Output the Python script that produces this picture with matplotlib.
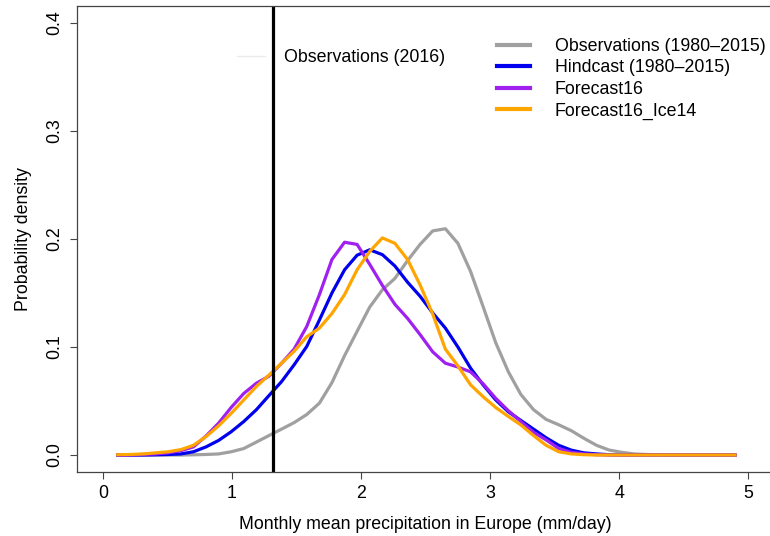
import matplotlib
matplotlib.use("Agg")
import matplotlib.pyplot as plt
from matplotlib.lines import Line2D

plt.rcParams['font.family'] = ['Liberation Sans', 'DejaVu Sans']

# evaluation grid of the densities (mm/day)
precip = [0.116, 0.214, 0.311, 0.409, 0.506, 0.604, 0.702, 0.799, 0.897, 0.994,
          1.092, 1.190, 1.287, 1.385, 1.482, 1.580, 1.678, 1.775, 1.873, 1.970,
          2.068, 2.166, 2.263, 2.361, 2.458, 2.556, 2.654, 2.751, 2.849, 2.946,
          3.044, 3.142, 3.239, 3.337, 3.434, 3.532, 3.630, 3.727, 3.825, 3.922,
          4.020, 4.118, 4.215, 4.313, 4.410, 4.508, 4.606, 4.703, 4.801, 4.898]

obs_clim = [0.0, 0.0, 0.0, 0.0, 0.0, 0.0, 0.0002, 0.0005, 0.001, 0.003,
            0.006, 0.012, 0.018, 0.024, 0.030, 0.0375, 0.048, 0.067, 0.092, 0.1145,
            0.137, 0.153, 0.1635, 0.180, 0.195, 0.2075, 0.2095, 0.196, 0.170, 0.1375,
            0.104, 0.077, 0.056, 0.042, 0.033, 0.028, 0.0225, 0.0155, 0.009, 0.0046,
            0.0025, 0.001, 0.0005, 0.0002, 0.0, 0.0, 0.0, 0.0, 0.0, 0.0]

hindcast = [0.0, 0.0, 0.0, 0.0002, 0.0005, 0.001, 0.003, 0.0075, 0.0135, 0.0215,
            0.031, 0.042, 0.055, 0.068, 0.0835, 0.1005, 0.125, 0.150, 0.1715, 0.185,
            0.190, 0.1855, 0.175, 0.160, 0.147, 0.1315, 0.1175, 0.100, 0.0805, 0.065,
            0.051, 0.040, 0.032, 0.024, 0.016, 0.009, 0.0045, 0.002, 0.001, 0.0003,
            0.0, 0.0, 0.0, 0.0, 0.0, 0.0, 0.0, 0.0, 0.0, 0.0]

forecast16 = [0.0, 0.0, 0.0005, 0.001, 0.002, 0.004, 0.0075, 0.0175, 0.0295, 0.044,
              0.057, 0.0665, 0.073, 0.085, 0.098, 0.119, 0.1485, 0.181, 0.197, 0.195,
              0.1765, 0.157, 0.1395, 0.1265, 0.1115, 0.0955, 0.085, 0.0815, 0.077, 0.066,
              0.0525, 0.041, 0.031, 0.021, 0.014, 0.006, 0.0025, 0.001, 0.0003, 0.0,
              0.0, 0.0, 0.0, 0.0, 0.0, 0.0, 0.0, 0.0, 0.0, 0.0]

forecast16_ice14 = [0.0003, 0.0005, 0.001, 0.002, 0.003, 0.005, 0.009, 0.017, 0.027, 0.0385,
                    0.051, 0.0635, 0.074, 0.085, 0.096, 0.1095, 0.1175, 0.131, 0.1485, 0.1715,
                    0.1885, 0.201, 0.196, 0.181, 0.1575, 0.1305, 0.098, 0.0825, 0.065, 0.054,
                    0.044, 0.0357, 0.0278, 0.018, 0.009, 0.003, 0.001, 0.0003, 0.0, 0.0,
                    0.0, 0.0, 0.0, 0.0, 0.0, 0.0, 0.0, 0.0, 0.0, 0.0]

obs_2016 = 1.32

series = [("Observations (1980\u20132015)", obs_clim, "#a0a0a0"),
          ("Hindcast (1980\u20132015)", hindcast, "#0000ee"),
          ("Forecast16", forecast16, "#a020f0"),
          ("Forecast16_Ice14", forecast16_ice14, "#ffa500")]

FS = 12.8
W, H = 770, 536
fig = plt.figure(figsize=(W / 100, H / 100), dpi=100)
ax = fig.add_axes([77 / W, (H - 472.3) / H, (774 - 77) / W, (472.3 - 5.7) / H])

handles = []
for label, dens, col in series:
    ln, = ax.plot(precip, dens, color=col, lw=2.3, label=label)
    handles.append(ln)
ax.axvline(obs_2016, color="black", lw=2.3)

ax.set_xlim(-0.2, 5.2)
ax.set_ylim(-0.016, 0.416)
ax.set_xticks([0, 1, 2, 3, 4, 5])
ax.set_yticks([0.0, 0.1, 0.2, 0.3, 0.4])
ax.set_yticklabels(["0.0", "0.1", "0.2", "0.3", "0.4"], rotation=90, va='center')
ax.tick_params(axis='both', direction='out', length=5, width=0.8, labelsize=FS, colors='#444444',
               labelcolor='black')
ax.tick_params(axis='x', pad=4)
ax.tick_params(axis='y', pad=5)
for s in ax.spines.values():
    s.set_color('#444444')
    s.set_linewidth(0.9)
ax.spines['right'].set_visible(False)

ax.set_xlabel("Monthly mean precipitation in Europe (mm/day)", fontsize=FS, labelpad=10)
ax.set_ylabel("Probability density", fontsize=FS, labelpad=10)

leg = fig.legend(handles=handles, loc='upper left', bbox_to_anchor=(497 / W, 1 - 38 / H),
                 frameon=False, fontsize=FS, handlelength=1.85, handletextpad=1.4,
                 labelspacing=0.25, borderpad=0, borderaxespad=0)
for h in leg.legend_handles:
    h.set_linewidth(3)

fig.legend(handles=[Line2D([], [], color='#ebebeb', lw=1)], labels=["Observations (2016)"],
           loc='center left', bbox_to_anchor=(237 / W, 1 - 58 / H), frameon=False,
           fontsize=FS, handlelength=1.6, handletextpad=1.05, borderpad=0, borderaxespad=0)

fig.savefig("out.png", dpi=100)
